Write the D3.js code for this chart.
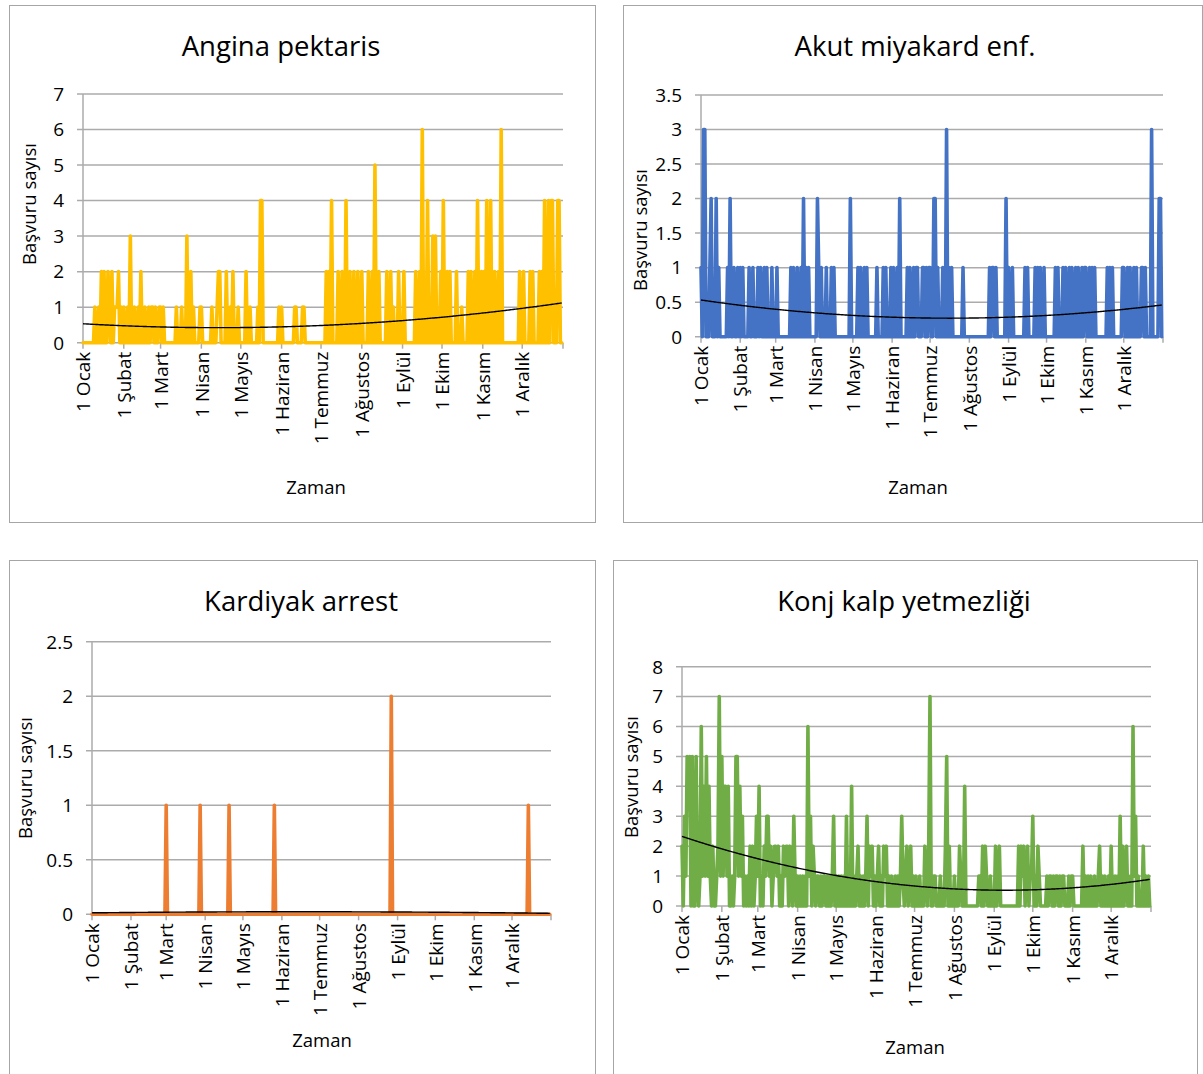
<!DOCTYPE html>
<html>
<head>
<meta charset="utf-8">
<script src="https://cdnjs.cloudflare.com/ajax/libs/d3/7.8.5/d3.min.js"></script>
<style>
  body { margin: 0; background: #fff; }
  text { font-family: "Open Sans", sans-serif; fill: #000; }
</style>
</head>
<body>
<div id="chart-area"></div>
<script>

// month labels on the date axis, and days per month (2019, not a leap year)
var monthLabels = ["1 Ocak", "1 Şubat", "1 Mart", "1 Nisan", "1 Mayıs", "1 Haziran",
  "1 Temmuz", "1 Ağustos", "1 Eylül", "1 Ekim", "1 Kasım", "1 Aralık"]
var monthDays = [31, 28, 31, 30, 31, 30, 31, 31, 30, 31, 30, 31]

// daily admissions, one string per month, one digit per day (groups of 5 days)
var anginaMonths = [
  "00000 00001 00102 02002 10201 11201 0",
  "10010 30010 01020 01001 01101 001",
  "10100 00000 00100 01000 30020 10000 1",
  "10000 00010 00122 00002 00102 00010",
  "00002 00100 00010 44000 00000 00001 0",
  "10000 00000 11000 01100 00000 00000",
  "00002 02040 00020 02004 00200 20020 0",
  "20000 20020 50020 00002 00201 00020 0",
  "02000 00000 20020 60004 00030 30002",
  "04002 02000 02000 10000 20200 20400 2",
  "02040 04002 00206 00000 00000 00020",
  "02000 02020 00020 20400 40440 00440 0"
]

var akutMonths = [
  "10330 00120 00201 00000 01020 01001 0",
  "10100 00100 10001 01001 01000 100",
  "01000 00000 00101 00100 10201 01000 0",
  "00210 10001 00010 10000 00000 00020",
  "00001 01001 01000 00001 00001 01000 1",
  "01001 02000 00101 00101 10001 10101",
  "10022 01000 10030 10100 00000 01000 0",
  "00000 00000 00000 01011 01000 00002 0",
  "10010 00000 00010 10000 01010 10010",
  "00000 00101 00010 10010 10010 10010 1",
  "10010 10100 00000 00101 01000 00001",
  "10010 10010 10001 10100 00300 00022 0"
]

var arrestMonths = [
  "00000 00000 00000 00000 00000 00000 0",
  "00000 00000 00000 00000 00000 000",
  "10000 00000 00000 00000 00000 00100 0",
  "00000 00000 00000 00001 00000 00000",
  "00000 00000 00000 00000 00000 10000 0",
  "00000 00000 00000 00000 00000 00000",
  "00000 00000 00000 00000 00000 00000 0",
  "00000 00000 00000 00000 00000 02000 0",
  "00000 00000 00000 00000 00000 00000",
  "00000 00000 00000 00000 00000 00000 0",
  "00000 00000 00000 00000 00000 00000",
  "00000 00000 00010 00000 00000 00000 0"
]

var konjMonths = [
  "20315 45050 05101 61415 14102 00127 1",
  "51441 40010 15514 13010 10202 013",
  "14010 21331 20122 12010 21220 21031 0",
  "10101 01061 30210 11010 11010 10130",
  "10101 01030 10401 01201 01013 02120 1",
  "01201 02120 10100 10101 31012 01201",
  "01001 00021 02700 11000 10002 50200 0",
  "10002 10040 00000 00001 10202 10010 0",
  "02012 00000 00000 00002 02120 12011",
  "30102 10000 01011 01011 01011 00010 1",
  "10000 00020 10101 00100 12010 10010",
  "20010 10302 01200 10613 01000 20101 0"
]

function toDaily(months, name) {
  var out = []
  months.forEach(function(s, i) {
    var v = s.replace(/\s/g, "").split("").map(Number)
    if (v.length !== monthDays[i]) throw new Error(name + " month " + i + " has " + v.length)
    out = out.concat(v)
  })
  return out
}

var yearDays = d3.sum(monthDays)
var monthStarts = monthDays.map(function(d, i) { return d3.sum(monthDays.slice(0, i)) })

// 2nd order polynomial trend (least squares), like the Excel trendline
function quadFit(vals) {
  var n = vals.length, S = [0, 0, 0, 0, 0], T = [0, 0, 0]
  vals.forEach(function(v, i) {
    var t = i / (n - 1)
    for (var k = 0; k < 5; k++) S[k] += Math.pow(t, k)
    for (var k = 0; k < 3; k++) T[k] += v * Math.pow(t, k)
  })
  var M = [[S[0], S[1], S[2], T[0]], [S[1], S[2], S[3], T[1]], [S[2], S[3], S[4], T[2]]]
  for (var c = 0; c < 3; c++) {
    for (var r = c + 1; r < 3; r++) {
      var f = M[r][c] / M[c][c]
      for (var k = c; k < 4; k++) M[r][k] -= f * M[c][k]
    }
  }
  var coef = [0, 0, 0]
  for (var r = 2; r >= 0; r--) {
    var s = M[r][3]
    for (var k = r + 1; k < 3; k++) s -= M[r][k] * coef[k]
    coef[r] = s / M[r][r]
  }
  return vals.map(function(v, i) {
    var t = i / (n - 1)
    return coef[0] + coef[1] * t + coef[2] * t * t
  })
}

var panels = [
  { title: "Angina pektaris", months: anginaMonths, color: "#FFC000", yMax: 7, yStep: 1,
    box: [9, 5, 595, 522], x0: 83, x1: 563, yBase: 342.7, yTop: 94,
    titlePos: [281, 56], yTitlePos: [36, 204], xTitlePos: [316, 494] },
  { title: "Akut miyakard enf.", months: akutMonths, color: "#4472C4", yMax: 3.5, yStep: 0.5,
    box: [623, 5, 1202, 522], x0: 701, x1: 1163, yBase: 336.7, yTop: 95,
    titlePos: [915, 56], yTitlePos: [647, 230], xTitlePos: [918, 494] },
  { title: "Kardiyak arrest", months: arrestMonths, color: "#ED7D31", yMax: 2.5, yStep: 0.5,
    box: [9, 560, 595, 1090], x0: 92, x1: 551, yBase: 914.3, yTop: 641.7,
    titlePos: [301, 611], yTitlePos: [32, 778], xTitlePos: [322, 1047] },
  { title: "Konj kalp yetmezliği", months: konjMonths, color: "#70AD47", yMax: 8, yStep: 1,
    box: [613, 560, 1197, 1090], x0: 682, x1: 1151, yBase: 906, yTop: 666.7,
    titlePos: [904, 611], yTitlePos: [638, 777], xTitlePos: [915, 1054] }
]

var svg = d3.select("#chart-area").append("svg")
  .attr("width", 1203)
  .attr("height", 1074)

var gridColor = "#ababab"

panels.forEach(function(p) {
  var values = toDaily(p.months, p.title)
  var trend = quadFit(values)

  var g = svg.append("g")

  g.append("rect")
    .attr("x", p.box[0] + 0.5)
    .attr("y", p.box[1] + 0.5)
    .attr("width", p.box[2] - p.box[0])
    .attr("height", p.box[3] - p.box[1])
    .attr("fill", "#fff")
    .attr("stroke", "#a6a6a6")

  var x = d3.scaleLinear().domain([0, yearDays]).range([p.x0, p.x1])
  var y = d3.scaleLinear().domain([0, p.yMax]).range([p.yBase, p.yTop])
  var yTicks = d3.range(0, p.yMax + p.yStep / 2, p.yStep)

  // horizontal gridlines (with a little outside tick on the left)
  g.selectAll(".grid")
    .data(yTicks)
    .enter().append("line")
      .attr("x1", p.x0 - 6)
      .attr("x2", p.x1)
      .attr("y1", function(d) { return y(d) })
      .attr("y2", function(d) { return y(d) })
      .attr("stroke", gridColor)
      .attr("stroke-width", 1.5)

  // value axis line
  g.append("line")
    .attr("x1", p.x0).attr("x2", p.x0)
    .attr("y1", y(0)).attr("y2", y(p.yMax))
    .attr("stroke", gridColor)
    .attr("stroke-width", 1.5)

  g.selectAll(".ylab")
    .data(yTicks)
    .enter().append("text")
      .attr("x", p.x0 - 19)
      .attr("y", function(d) { return y(d) })
      .attr("dy", "0.36em")
      .attr("text-anchor", "end")
      .attr("font-size", "19px")
      .text(function(d) { return String(d) })

  // date axis ticks at month starts
  g.selectAll(".xtick")
    .data(monthStarts.concat([yearDays]))
    .enter().append("line")
      .attr("x1", function(d) { return x(d) })
      .attr("x2", function(d) { return x(d) })
      .attr("y1", y(0))
      .attr("y2", y(0) + 6)
      .attr("stroke", gridColor)
      .attr("stroke-width", 1.5)

  g.selectAll(".xlab")
    .data(monthLabels)
    .enter().append("text")
      .attr("transform", function(d, i) {
        return "translate(" + x(monthStarts[i]) + "," + (y(0) + 9) + ") rotate(-90)"
      })
      .attr("dy", "0.38em")
      .attr("text-anchor", "end")
      .attr("font-size", "19px")
      .text(function(d) { return d })

  var line = d3.line()
    .x(function(d, i) { return x(i) })
    .y(function(d) { return y(d) })

  g.append("path")
    .datum(values)
    .attr("d", line)
    .attr("fill", "none")
    .attr("stroke", p.color)
    .attr("stroke-width", 3.6)
    .attr("stroke-linejoin", "round")
    .attr("stroke-linecap", "round")

  g.append("path")
    .datum(trend)
    .attr("d", line)
    .attr("fill", "none")
    .attr("stroke", "#000")
    .attr("stroke-width", 1.4)

  g.append("text")
    .attr("x", p.titlePos[0])
    .attr("y", p.titlePos[1])
    .attr("text-anchor", "middle")
    .attr("font-size", "27.5px")
    .text(p.title)

  g.append("text")
    .attr("transform", "translate(" + p.yTitlePos[0] + "," + p.yTitlePos[1] + ") rotate(-90)")
    .attr("text-anchor", "middle")
    .attr("font-size", "18.5px")
    .text("Başvuru sayısı")

  g.append("text")
    .attr("x", p.xTitlePos[0])
    .attr("y", p.xTitlePos[1])
    .attr("text-anchor", "middle")
    .attr("font-size", "18.5px")
    .text("Zaman")
})

</script>
</body>
</html>
